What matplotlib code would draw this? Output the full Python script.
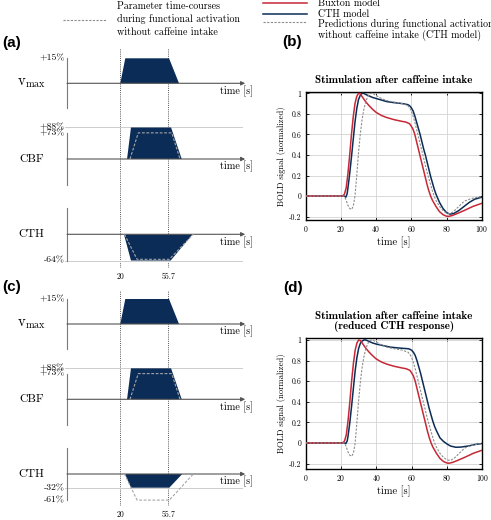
import numpy as np
import matplotlib.pyplot as plt

plt.rcParams['font.family'] = ['cmr10', 'DejaVu Serif']
plt.rcParams['mathtext.fontset'] = 'cm'
plt.rcParams['axes.formatter.use_mathtext'] = True

# ---- BOLD time-courses (time in s, normalized BOLD) ----
t_buxton = [0, 21, 22, 23, 24, 25, 26, 27, 28, 29, 30, 31, 32, 34, 36, 38, 40, 43, 46, 50,
            54, 57, 59, 60, 61, 62, 63, 64, 65, 66, 67, 68, 69, 70, 71, 72, 74, 76, 78, 80,
            81, 83, 86, 90, 95, 100]
bold_buxton = [0, 0, 0.02, 0.08, 0.22, 0.4, 0.6, 0.77, 0.9, 0.97, 1.0, 0.995, 0.97, 0.92, 0.88,
               0.845, 0.815, 0.785, 0.765, 0.745, 0.73, 0.72, 0.705, 0.68, 0.65, 0.60, 0.53,
               0.46, 0.39, 0.32, 0.25, 0.18, 0.11, 0.05, 0.0, -0.04, -0.10, -0.15, -0.18,
               -0.195, -0.197, -0.19, -0.17, -0.14, -0.10, -0.07]

t_cth_b = [0, 22, 22.8, 23.5, 24, 25, 26, 27, 28, 29, 30, 31, 32, 33, 34, 36, 38, 40, 43, 46,
           50, 55, 58, 59, 60, 61, 62, 63, 64, 65, 66, 67, 68, 69, 70, 71, 72, 73, 74, 75,
           76, 78, 80, 82, 84, 87, 90, 93, 96, 100]
bold_cth_b = [0, 0, -0.01, 0.02, 0.08, 0.22, 0.38, 0.55, 0.72, 0.85, 0.94, 0.98, 1.0, 1.0, 0.99,
              0.975, 0.96, 0.95, 0.935, 0.92, 0.91, 0.9, 0.89, 0.88, 0.86, 0.83, 0.78, 0.72,
              0.66, 0.6, 0.53, 0.46, 0.4, 0.33, 0.26, 0.19, 0.13, 0.07, 0.02, -0.02, -0.06,
              -0.12, -0.16, -0.175, -0.17, -0.14, -0.1, -0.06, -0.03, -0.01]

t_cth_d = [0, 22, 22.8, 23.5, 24, 25, 26, 27, 28, 29, 30, 31, 32, 33, 34, 36, 38, 40, 44, 48,
           54, 58, 59, 60, 61, 62, 63, 64, 65, 66, 67, 68, 69, 70, 71, 72, 73, 74, 76, 78,
           80, 82, 85, 88, 92, 96, 100]
bold_cth_d = [0, 0, -0.005, 0.02, 0.07, 0.2, 0.36, 0.53, 0.7, 0.83, 0.92, 0.97, 0.99, 1.0, 1.0,
              0.985, 0.97, 0.96, 0.945, 0.93, 0.92, 0.915, 0.91, 0.9, 0.88, 0.85, 0.8, 0.74,
              0.68, 0.61, 0.54, 0.47, 0.4, 0.33, 0.27, 0.21, 0.16, 0.12, 0.05, 0.015, -0.01,
              -0.03, -0.042, -0.04, -0.03, -0.015, -0.005]

t_nocaf = [0, 22, 23, 24, 25, 26, 27, 28, 29, 30, 31, 32, 33, 34, 35, 36, 37, 38, 40, 43,
           46, 50, 55, 58, 59, 60, 61, 62, 63, 64, 65, 66, 67, 68, 69, 70, 71, 72, 73, 74,
           76, 78, 80, 82, 84, 87, 90, 93, 96, 100]
bold_nocaf = [0, 0, -0.04, -0.09, -0.12, -0.13, -0.1, 0.0, 0.2, 0.42, 0.6, 0.74, 0.84, 0.91,
              0.96, 0.99, 1.0, 1.0, 0.98, 0.95, 0.93, 0.915, 0.9, 0.88, 0.86, 0.83, 0.78, 0.72,
              0.65, 0.58, 0.51, 0.44, 0.37, 0.3, 0.23, 0.17, 0.11, 0.05, 0.0, -0.04, -0.1,
              -0.14, -0.165, -0.17, -0.15, -0.1, -0.05, -0.03, -0.015, -0.005]

x_ticks = [0, 20, 40, 60, 80, 100]
y_ticks = [-0.2, 0, 0.2, 0.4, 0.6, 0.8, 1]
y_ticklabels = ['-0.2', '0', '0.2', '0.4', '0.6', '0.8', '1']

# ---- parameter time-courses: corner times [s] and plateau level [%] ----
t_stim = [20, 55.7]
vmax_t, vmax_level = [20.0, 23.7, 56.1, 63.5], 15
cbf_t, cbf_level = [25.0, 27.9, 57.6, 65.5], 88
cbf0_t, cbf0_level = [27.2, 33.3, 58.1, 64.2], 73
cth_a_t, cth_a_level = [22.7, 27.9, 57.3, 73.6], -64
cth_c_t, cth_c_level = [23.5, 27.9, 56.3, 65.9], -32
cth0_t, cth0_level = [23.1, 32.4, 56.3, 74.1], -61

NAVY = '#0b2c57'
RED = '#c62835'
W, H = 491, 520
fig = plt.figure(figsize=(W / 100, H / 100), dpi=100)


def px_axes(x0, y0, x1, y1, **kw):
    return fig.add_axes([x0 / W, 1 - y1 / H, (x1 - x0) / W, (y1 - y0) / H], **kw)


# time axis of the schematic rows: 20 s at 120.3 px, 1.35 px per s
T_LEFT, T_RIGHT = 20 - 120.3 / 1.35, 20 + 129.7 / 1.35
T_AX, T_ARROW, T_REF, T_NAME, T_TIME = -19.5, 112.5, 110, -46, 93.9


def trapezoid(ts, level):
    return ts, [0, level, level, 0]


def draw_row(base, scale, name, lim, fill, dashed=None, refs=(), labels=(), name_size=8.5):
    ax = px_axes(0, base - 35, 250, base + 35)
    ax.set_xlim(T_LEFT, T_RIGHT)
    ax.set_ylim(-35 / scale, 35 / scale)
    ax.axis('off')
    ax.plot([T_AX, T_AX], [-lim, lim], color='#7a7a7a', lw=0.8)
    ax.annotate('', xy=(T_ARROW, 0), xytext=(T_AX, 0),
                arrowprops=dict(arrowstyle='-|>', color='#555555', lw=0.8,
                                mutation_scale=6, shrinkA=0, shrinkB=0))
    for r in refs:
        ax.plot([T_AX - 1.5, T_REF], [r, r], color='#cdcdcd', lw=0.7, zorder=0)
    x, y = trapezoid(*fill)
    ax.fill(x, y, color=NAVY, lw=0, zorder=2)
    if dashed is not None:
        x, y = trapezoid(*dashed)
        ax.plot(x, y, ls=(0, (2.5, 1.5)), color='#a5a5a5', lw=0.8, zorder=3)
    for v in labels:
        ax.text(T_AX - 1.6, v, f'{v:+d}%', ha='right', va='center', fontsize=7)
    ax.text(T_NAME, 0, name, ha='center', va='center', fontsize=name_size)
    ax.annotate('time [s]', xy=(T_TIME, 0), xytext=(0, -5.5), textcoords='offset points',
                ha='left', va='center', fontsize=7.3)
    return ax


def draw_guides(y0, y1):
    ax = px_axes(0, y0, 250, y1)
    ax.set_xlim(T_LEFT, T_RIGHT)
    ax.set_ylim(0, 1)
    ax.axis('off')
    for t in t_stim:
        ax.axvline(t, color='#555555', ls=(0, (1, 1.2)), lw=0.7)
        ax.annotate(f'{t:g}', xy=(t, 0), xytext=(0, -3), textcoords='offset points',
                    ha='center', va='top', fontsize=5.7)


vmax_label = r'$\mathrm{v}_{\mathrm{max}}$'

# (a)
draw_guides(48, 268)
draw_row(83.3, 1.667, vmax_label, vmax_level, (vmax_t, vmax_level), labels=[vmax_level],
         name_size=10.5)
draw_row(159, 0.358, 'CBF', cbf0_level, (cbf_t, cbf_level), (cbf0_t, cbf0_level),
         refs=[cbf_level], labels=[cbf_level, cbf0_level])
draw_row(234.3, 0.41, 'CTH', abs(cth_a_level), (cth_a_t, cth_a_level), (cth0_t, cth0_level),
         refs=[cth_a_level], labels=[cth_a_level])
# (c)
draw_guides(291, 506)
draw_row(324, 1.667, vmax_label, vmax_level, (vmax_t, vmax_level), labels=[vmax_level],
         name_size=10.5)
draw_row(399.3, 0.352, 'CBF', cbf0_level, (cbf_t, cbf_level), (cbf0_t, cbf0_level),
         refs=[cbf_level], labels=[cbf_level, cbf0_level])
draw_row(474, 0.428, 'CTH', abs(cth0_level), (cth_c_t, cth_c_level), (cth0_t, cth0_level),
         refs=[cth_c_level], labels=[cth_c_level, cth0_level])


def bold_axes(y0, y1, x1, ylim, title, t_cth, bold_cth):
    ax = px_axes(305.7, y0, x1, y1)
    ax.plot(t_cth, bold_cth, color=NAVY, lw=1.1, zorder=3)
    ax.plot(t_buxton, bold_buxton, color=RED, lw=1.1, zorder=3)
    ax.plot(t_nocaf, bold_nocaf, color='#8c8c8c', ls=(0, (2, 1.3)), lw=0.8, zorder=4)
    ax.set_xlim(0, 100)
    ax.set_ylim(*ylim)
    ax.set_xticks(x_ticks)
    ax.set_yticks(y_ticks)
    ax.set_yticklabels(y_ticklabels)
    ax.tick_params(direction='in', top=True, right=True, length=2.5, width=0.6,
                   labelsize=5.6, pad=3)
    ax.grid(True, color='#d3d3d3', lw=0.6)
    ax.set_axisbelow(True)
    for s in ax.spines.values():
        s.set_linewidth(1.0)
    ax.set_xlabel('time [s]', fontsize=7.5, labelpad=1.5)
    ax.set_ylabel('BOLD signal (normalized)', fontsize=6.2, labelpad=2)
    ax.set_title(title, fontfamily='cmb10', fontsize=8, pad=6, linespacing=1.05)
    return ax


bold_axes(91.7, 220, 481.7, (-0.232, 1.016), 'Stimulation after caffeine intake',
          t_cth_b, bold_cth_b)
bold_axes(337.7, 469.3, 482.3, (-0.256, 1.022),
          'Stimulation after caffeine intake\n(reduced CTH response)', t_cth_d, bold_cth_d)

# legends and panel letters
ov = fig.add_axes([0, 0, 1, 1], zorder=10)
ov.set_xlim(0, W)
ov.set_ylim(H, 0)
ov.axis('off')
ov.plot([63, 106], [20, 20], color='#8c8c8c', ls=(0, (2, 1.3)), lw=0.8)
for y, s in zip([6, 19.3, 32.3], ['Parameter time-courses', 'during functional activation',
                                  'without caffeine intake']):
    ov.text(116.7, y, s, va='center', fontsize=7.2)
ov.plot([263, 307], [3.3, 3.3], color=RED, lw=1.1)
ov.plot([263, 307], [14, 14], color=NAVY, lw=1.1)
ov.plot([263, 307], [21.7, 21.7], color='#8c8c8c', ls=(0, (2, 1.3)), lw=0.8)
for y, s in zip([3, 14, 24, 35], ['Buxton model', 'CTH model',
                                  'Predictions during functional activation',
                                  'without caffeine intake (CTH model)']):
    ov.text(318, y, s, va='center', fontsize=7.2)
for x, y, s in [(2, 43, '(a)'), (282, 42, '(b)'), (2, 287, '(c)'), (283, 288, '(d)')]:
    ov.text(x, y, s, va='center', ha='left', fontsize=11, fontweight='bold',
            fontfamily='Liberation Sans')

fig.savefig('out.png', dpi=100)
